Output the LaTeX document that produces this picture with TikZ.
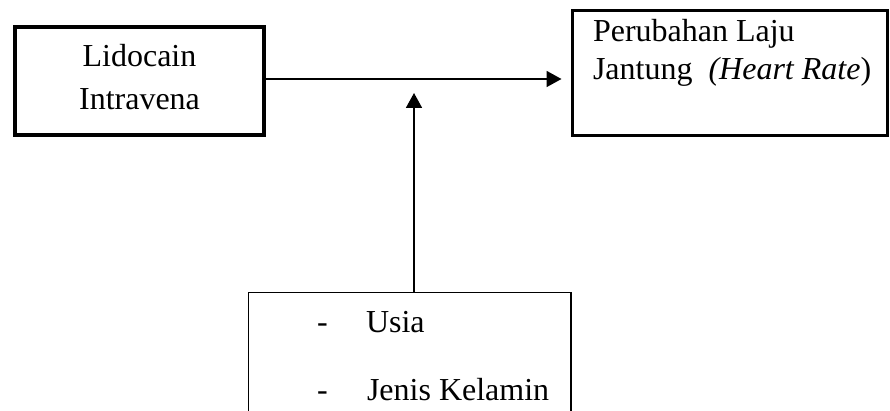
\documentclass[tikz,border=0pt]{standalone}
\usepackage{fontspec}
\setmainfont{Liberation Serif}
\usetikzlibrary{arrows.meta}
\begin{document}
\begin{tikzpicture}[x=1pt,y=-1pt,
  thickbox/.style={draw=black,line width=3.6pt,inner sep=0pt,outer sep=0pt},
  thinbox/.style={draw=black,line width=1.5pt,inner sep=0pt,outer sep=0pt},
  lbl/.style={inner sep=0pt,outer sep=0pt,font=\fontsize{32}{38}\selectfont},
  conn/.style={draw=black,line width=1.8pt},
  arr/.style={conn,-{Triangle[length=15pt,width=16pt]}}]
\useasboundingbox (0,0) rectangle (890,411);
% boxes
\node[thickbox,minimum width=249pt,minimum height=108pt] (lido) at (139.5,81) {};
\node[thickbox,minimum width=315pt,minimum height=125pt] (hr) at (730,73) {};
\node[thinbox,minimum width=322.5pt,minimum height=140pt] (faktor) at (409.75,362.5) {};
% texts
\node[lbl,anchor=base] (t1) at (139.5,67) {Lidocain};
\node[lbl,anchor=base] (t2) at (139.5,110) {Intravena};
\node[lbl,anchor=base west] (t3) at (593,42) {Perubahan Laju};
\node[lbl,anchor=base west] (t4) at (593,80) {Jantung\ \ \textit{(Heart Rate}{)}};
\node[lbl,anchor=base west] (d1) at (317,332) {-};
\node[lbl,anchor=base west] (u1) at (366,332) {Usia};
\node[lbl,anchor=base west] (d2) at (317,400) {-};
\node[lbl,anchor=base west] (u2) at (367,400) {Jenis Kelamin};
% connectors
\coordinate (hy) at (0,79);
\coordinate (vtip) at (414,93);
\draw[arr,shorten >=11pt] (lido.east |- hy) -- (hr.west |- hy);
\draw[arr] (faktor.north -| vtip) -- (vtip);
\end{tikzpicture}
\end{document}
